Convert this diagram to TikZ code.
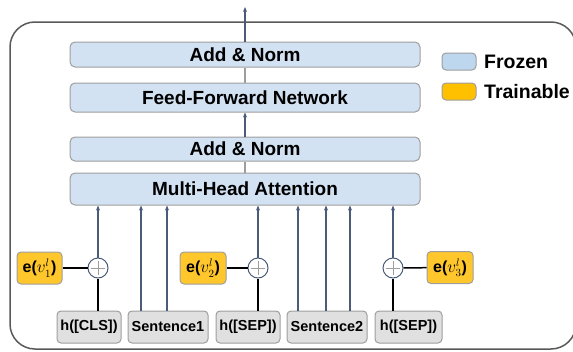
\documentclass[tikz,border=0pt]{standalone}
\usepackage{amsmath}
\usepackage{fontspec}
\setmainfont{Liberation Sans}
\usepackage{tikz}
\usetikzlibrary{arrows.meta, calc, positioning}
\tikzset{>={Stealth[length=5pt,width=4pt]}}
\usepackage[usenames,dvipsnames]{xcolor}
\definecolor{frozenfill}{HTML}{D2E2F3}
\definecolor{frozenkey}{HTML}{BDD7EE}
\definecolor{trainfill}{HTML}{FFC72C}
\definecolor{trainkey}{HTML}{FFC000}
\definecolor{tokenfill}{HTML}{E0E0E0}
\definecolor{edgegray}{HTML}{9E9E9E}
\definecolor{flow}{HTML}{4B5C79}

\begin{document}
\begin{tikzpicture}[x=1pt, y=-1pt,
    layer/.style={draw=edgegray, line width=1pt, fill=frozenfill, rounded corners=5pt,
        minimum width=350pt, inner sep=0pt, font=\bfseries\fontsize{19}{21}\selectfont},
    token/.style={draw=edgegray, line width=1pt, fill=tokenfill, rounded corners=4pt,
        minimum height=32pt, inner sep=0pt, font=\bfseries\fontsize{14.5}{17}\selectfont},
    prompt/.style={draw=edgegray, line width=1pt, fill=trainfill, rounded corners=4pt,
        minimum width=46pt, minimum height=32pt, inner sep=0pt, font=\bfseries\fontsize{16}{18}\selectfont},
    addop/.style={circle, draw=flow, line width=1pt, fill=white, minimum size=20pt, inner sep=0pt,
        path picture={\draw[edgegray, line width=0.7pt]
            ($(path picture bounding box.center)+(-7pt,0)$) -- ($(path picture bounding box.center)+(7pt,0)$)
            ($(path picture bounding box.center)+(0,-7pt)$) -- ($(path picture bounding box.center)+(0,7pt)$);}},
    key/.style={draw=edgegray, line width=1pt, rounded corners=4pt, minimum width=34pt, minimum height=17pt, inner sep=0pt},
    keytext/.style={anchor=west, inner sep=0pt, font=\bfseries\fontsize{19.5}{21}\selectfont},
    arr/.style={->, flow, line width=1.3pt},
    link/.style={edgegray, line width=1.2pt},
    tie/.style={black, line width=1.5pt}]
    \useasboundingbox (0,0) rectangle (573,351);
    % outer frame of the block
    \draw[black!65, line width=1.5pt, rounded corners=25pt] (10,22) rectangle (576,349);

    % transformer layers
    \node[layer, minimum height=25pt] (norm2) at (245,54.5) {Add \& Norm};
    \node[layer, minimum height=29pt] (ffn) at (245,97.5) {Feed-Forward Network};
    \node[layer, minimum height=24pt] (norm1) at (245,149) {Add \& Norm};
    \node[layer, minimum height=32pt] (mha) at (245,189) {Multi-Head Attention};
    \coordinate (out) at (245,7);

    \draw[arr] (norm2.north) -- (out);
    \draw[link] (ffn.north) -- (norm2.south);
    \draw[arr] (norm1.north) -- (ffn.south);
    \draw[link] (mha.north) -- (norm1.south);

    % legend
    \node[key, fill=frozenkey] (kfrozen) at (459,61.5) {};
    \node[keytext] (tfrozen) at (484,61.5) {Frozen};
    \node[key, fill=trainkey] (ktrain) at (459,91.5) {};
    \node[keytext] (ttrain) at (484,91.5) {Trainable};

    % input tokens
    \node[token, minimum width=64pt] (cls) at (89,327) {h([CLS])};
    \node[token, minimum width=80pt] (sent1) at (168,327) {Sentence1};
    \node[token, minimum width=64pt] (sepa) at (248,327) {h([SEP])};
    \node[token, minimum width=80pt] (sent2) at (327,327) {Sentence2};
    \node[token, minimum width=67pt] (sepb) at (408.5,327) {h([SEP])};

    % soft prompts added to the special tokens
    \node[addop] (plus1) at (98,268) {};
    \node[addop] (plus2) at (258,268) {};
    \node[addop] (plus3) at (393,268) {};
    \node[prompt, minimum width=45pt] (e1) at (39.5,268) {e($v_1^{l}$)};
    \node[prompt] (e2) at (203,268) {e($v_2^{l}$)};
    \node[prompt] (e3) at (450,267.5) {e($v_3^{l}$)};

    \draw[tie] (e1) -- (plus1);
    \draw[tie] (e2) -- (plus2);
    \draw[tie] (e3) -- (plus3);
    \draw[tie] (plus1.south) -- (plus1.south |- cls.north);
    \draw[tie] (plus2.south) -- (plus2.south |- sepa.north);
    \draw[tie] (plus3.south) -- (plus3.south |- sepb.north);

    % flows into attention
    \draw[arr] (plus1.north) -- (plus1.north |- mha.south);
    \draw[arr] (plus2.north) -- (plus2.north |- mha.south);
    \draw[arr] (plus3.north) -- (plus3.north |- mha.south);
    \foreach \dx in {-27,-1}
        \draw[arr] ([xshift=\dx pt]sent1.north) -- ([xshift=\dx pt]sent1.north |- mha.south);
    \foreach \dx in {-29,-1,23}
        \draw[arr] ([xshift=\dx pt]sent2.north) -- ([xshift=\dx pt]sent2.north |- mha.south);
\end{tikzpicture}
\end{document}
